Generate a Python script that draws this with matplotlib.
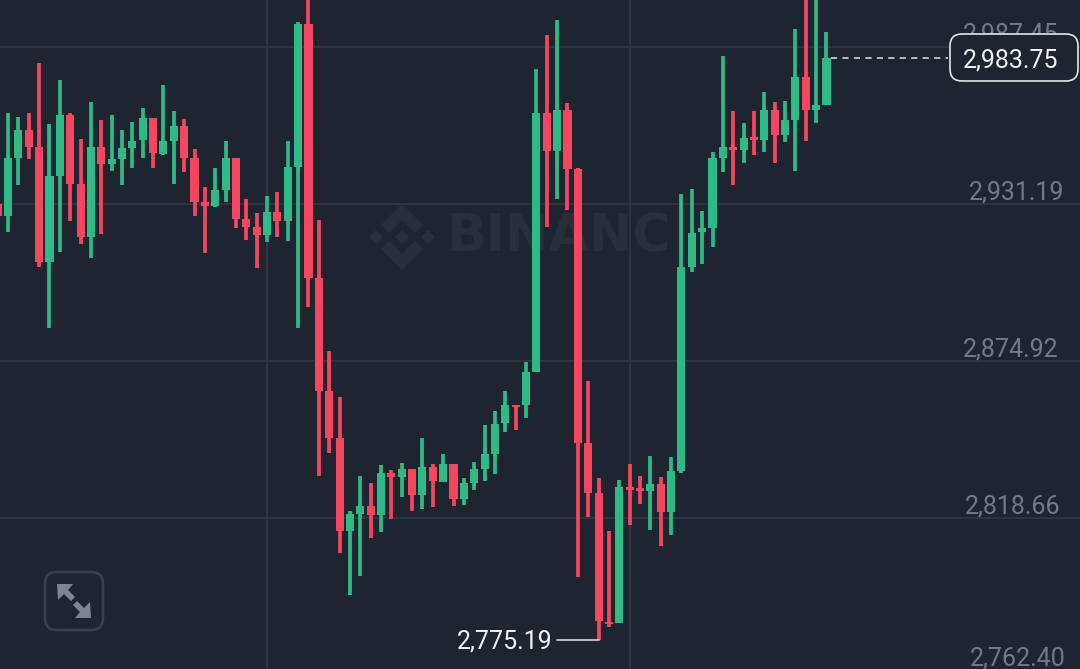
import numpy as np
import matplotlib
matplotlib.use("Agg")
import matplotlib.pyplot as plt
from matplotlib.patches import FancyBboxPatch, Polygon
from matplotlib.transforms import Affine2D

plt.rcParams["font.family"] = ["Roboto", "DejaVu Sans"]

BG = "#1e2530"
UP = "#2fba85"
DOWN = "#f4475f"
GRID = "#333944"
MARK = "#292f3a"

opens = [2931.4, 2926.9, 2947.9, 2957.8, 2951.9, 2910.6, 2941.3, 2963.2, 2938.5, 2919.6,
         2951.9, 2945.5, 2947.4, 2951.2, 2954.2, 2962.1, 2949.1, 2954.0, 2959.1, 2947.9,
         2932.1, 2930.5, 2936.3, 2947.9, 2925.9, 2923.2, 2920.3, 2928.6, 2925.2, 2944.6,
         2995.8, 2904.8, 2864.3, 2847.6, 2814.0, 2820.2, 2823.1, 2820.0, 2835.0, 2833.5,
         2836.2, 2827.1, 2837.2, 2831.8, 2838.2, 2825.5, 2831.3, 2836.3, 2841.6, 2852.7,
         2859.4, 2859.2, 2871.2, 2963.8, 2950.4, 2965.0, 2943.7, 2845.6, 2827.6, 2781.6,
         2781.0, 2829.8, 2829.4, 2828.6, 2831.0, 2821.0, 2835.5, 2908.8, 2921.2, 2922.7,
         2947.9, 2951.7, 2950.8, 2955.2, 2954.2, 2964.9, 2956.0, 2961.4, 2976.7, 2964.9,
         2966.9]
closes = [2927.1, 2947.9, 2957.8, 2951.9, 2910.6, 2941.3, 2963.2, 2938.5, 2919.6, 2951.9,
          2945.5, 2947.4, 2951.2, 2954.0, 2962.0, 2949.7, 2954.0, 2959.1, 2947.9, 2932.1,
          2930.5, 2936.3, 2947.9, 2925.9, 2923.2, 2920.3, 2928.6, 2925.2, 2944.4, 2995.8,
          2904.8, 2864.4, 2847.6, 2814.0, 2820.2, 2823.1, 2820.0, 2834.9, 2833.5, 2836.2,
          2827.1, 2837.2, 2832.0, 2838.2, 2825.5, 2831.3, 2836.3, 2841.6, 2852.6, 2859.3,
          2858.4, 2871.1, 2963.8, 2950.4, 2965.0, 2943.7, 2845.6, 2827.6, 2782.0, 2780.8,
          2829.8, 2828.9, 2828.5, 2831.0, 2821.0, 2835.5, 2908.8, 2921.0, 2922.7, 2947.8,
          2951.6, 2950.5, 2955.1, 2954.1, 2964.9, 2956.0, 2961.4, 2976.7, 2964.9, 2966.9,
          2983.75]
highs = [2934.0, 2964.0, 2962.6, 2964.0, 2981.7, 2960.0, 2975.7, 2964.0, 2954.6, 2967.9,
         2961.3, 2963.2, 2957.8, 2960.8, 2965.6, 2962.1, 2974.1, 2964.5, 2961.8, 2951.0,
         2937.5, 2944.1, 2953.8, 2947.9, 2933.1, 2928.1, 2934.3, 2935.7, 2953.8, 2996.5,
         3008.0, 2925.6, 2878.6, 2862.2, 2821.4, 2833.9, 2831.2, 2837.7, 2835.9, 2838.4,
         2836.2, 2847.6, 2838.1, 2841.7, 2838.2, 2833.2, 2838.9, 2852.0, 2857.2, 2864.4,
         2859.4, 2874.8, 2979.6, 2991.9, 2997.2, 2967.4, 2944.3, 2867.9, 2833.0, 2814.0,
         2832.3, 2838.1, 2833.7, 2841.0, 2833.4, 2840.7, 2934.9, 2936.7, 2928.9, 2949.8,
         2984.3, 2964.5, 2960.3, 2964.5, 2971.3, 2967.7, 2968.2, 2994.1, 3008.0, 3008.0,
         2993.0]
lows = [2925.0, 2921.2, 2938.0, 2947.4, 2908.8, 2886.8, 2914.2, 2925.2, 2917.0, 2912.1,
        2920.6, 2943.2, 2938.0, 2944.3, 2947.9, 2944.1, 2948.8, 2938.5, 2942.8, 2927.0,
        2913.9, 2930.3, 2931.9, 2922.6, 2918.5, 2908.5, 2917.6, 2919.6, 2918.2, 2886.9,
        2894.4, 2833.9, 2842.2, 2806.1, 2791.2, 2798.1, 2811.7, 2813.8, 2818.3, 2826.4,
        2821.4, 2822.0, 2822.6, 2831.8, 2823.0, 2823.6, 2828.8, 2832.0, 2834.6, 2849.7,
        2850.2, 2854.5, 2871.2, 2923.2, 2933.0, 2929.2, 2797.5, 2819.0, 2775.19, 2779.8,
        2781.0, 2816.4, 2823.9, 2814.5, 2808.7, 2812.6, 2834.9, 2907.0, 2909.8, 2915.9,
        2942.7, 2938.0, 2946.1, 2948.9, 2950.0, 2946.1, 2953.6, 2943.0, 2953.8, 2960.2,
        2966.9]

price_ticks = [2987.45, 2931.19, 2874.92, 2818.66, 2762.40]
price_labels = ["2,987.45", "2,931.19", "2,874.92", "2,818.66", "2,762.40"]
label_right = [1058, 1064, 1059, 1060, 1066]
label_lift = [13, 12, 12, 12, 17]
time_grid = [26, 61]
last_price = 2983.75
low_price = 2775.19
low_idx = 58

W, H = 1080, 669
fig = plt.figure(figsize=(W / 100, H / 100), dpi=100, facecolor=BG)
ax = fig.add_axes([0, 0, 1, 1], facecolor=BG)
ax.set_xlim(0.222, 104.47)
ax.set_ylim(2764.67, 3004.4)
ax.axis("off")

# pixel coords, y down, for the things that sit on the screen and not on the scales
px = Affine2D().scale(1, -1).translate(0, H)

for p in price_ticks:
    ax.axhline(p, color=GRID, lw=1.1, zorder=1)
for t in time_grid:
    ax.axvline(t, color=GRID, lw=1.1, zorder=1)

# watermark
logo = [
    [(402, 204), (423, 225), (415, 233), (402, 220), (389, 233), (381, 225)],
    [(402, 270), (423, 249), (415, 241), (402, 254), (389, 241), (381, 249)],
    [(402, 230), (409, 237), (402, 244), (395, 237)],
    [(376, 230), (383, 237), (376, 244), (369, 237)],
    [(428, 230), (435, 237), (428, 244), (421, 237)],
]
for pts in logo:
    ax.add_patch(Polygon(pts, closed=True, fc=MARK, ec="none", transform=px, zorder=2))
ax.text(446, 238, "BINANC", transform=px, color=MARK, fontsize=37.5, fontweight="bold",
        family="DejaVu Sans", ha="left", va="center", zorder=2)

opens = np.array(opens)
closes = np.array(closes)
idx = np.arange(len(opens))
colors = [UP if c >= o else DOWN for o, c in zip(opens, closes)]
ax.vlines(idx, lows, highs, colors=colors, lw=2.7, capstyle="butt", zorder=3)
ax.bar(idx, np.abs(closes - opens), bottom=np.minimum(opens, closes), width=0.78,
       color=colors, lw=0, zorder=3)

# right price scale
for p, s, r, lift in zip(price_ticks, price_labels, label_right, label_lift):
    ax.annotate(s, (r / W, p), xycoords=ax.get_yaxis_transform(), xytext=(0, lift),
                textcoords="offset pixels", ha="right", va="center",
                color="#737a85", fontsize=18, zorder=4)

# last price line and tag
ax.plot([idx[-1] + 0.45, 91.7], [last_price, last_price], color="#e4e6ea", lw=1.1,
        dashes=(4, 3.5), zorder=4)
ax.add_patch(FancyBboxPatch((962, 46), 104, 23, boxstyle="round,pad=12,rounding_size=12",
                            fc=BG, ec="#e4e6ea", lw=1.2, transform=px, zorder=5))
ax.text(1011, 60.5, f"{last_price:,.2f}", transform=px, color="#f2f3f5", fontsize=18,
        ha="center", va="center", zorder=6)

# low marker
ax.plot([low_idx - 4, low_idx], [low_price, low_price], color="#e4e6ea", lw=1.1, zorder=4)
ax.annotate(f"{low_price:,.2f}", (low_idx - 4.4, low_price), xytext=(0, -2),
            textcoords="offset pixels", color="#f2f3f5", fontsize=18,
            ha="right", va="center", zorder=6)

# expand button
ax.add_patch(FancyBboxPatch((57, 584), 34, 34, boxstyle="round,pad=12,rounding_size=12",
                            fc="none", ec="#3a414c", lw=1.8, transform=px, zorder=4))
icon = [
    [(57, 584), (73, 584), (68, 590), (75, 597), (71, 601), (64, 594), (58, 600)],
    [(91, 618), (75, 618), (80, 612), (73, 605), (77, 601), (84, 608), (90, 602)],
]
for pts in icon:
    ax.add_patch(Polygon(pts, closed=True, fc="#7d8591", ec="none", transform=px, zorder=5))

fig.savefig("out.png", dpi=100, facecolor=BG)
